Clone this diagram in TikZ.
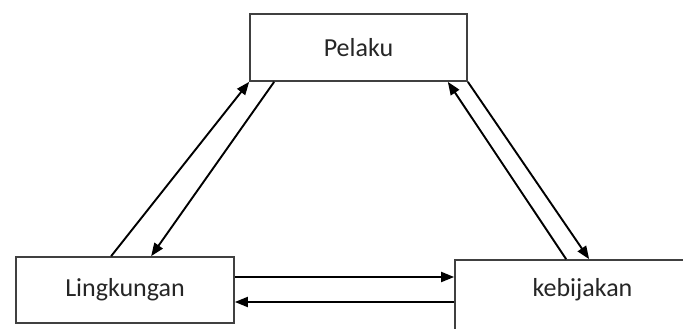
\documentclass[tikz,border=0pt]{standalone}
\usepackage{fontspec}
\setmainfont{Carlito}
\usetikzlibrary{arrows.meta,positioning}

\begin{document}
\begin{tikzpicture}[
    x = 1pt, y = -1pt, % picture measured in pixels, y downwards
    > = {Triangle[length=13pt,width=10pt]}, % arrow head style
    line width = 1.9pt, % line style
    font = \fontsize{26}{30}\selectfont
    ]

    \tikzset{box/.style={
    draw = black!75,
    line width = 1.7pt,
    fill = white,
    text = black!85,
    inner sep = 0pt
    }}
    \useasboundingbox (0,0) rectangle (683,329);
    \clip (0,0) rectangle (683,329);

    \node[box, minimum width = 217pt, minimum height = 67pt] (pelaku) at (358.5,47.5) {Pelaku};
    \node[box, minimum width = 218pt, minimum height = 66pt] (lingk) at (125,290) {Lingkungan};
    \node[box, minimum width = 255pt, minimum height = 72pt, text depth = 17pt] (kebij) at (582.5,296) {kebijakan};

    % lingkungan <-> pelaku
    \draw[->] ([xshift=96pt]lingk.north west) -- (pelaku.south west);
    \draw[->] ([xshift=25pt]pelaku.south west) -- ([xshift=136pt]lingk.north west);
    % kebijakan <-> pelaku
    \draw[->] ([xshift=112pt]kebij.north west) -- ([xshift=-20pt]pelaku.south east);
    \draw[->] (pelaku.south east) -- ([xshift=135pt]kebij.north west);
    % lingkungan <-> kebijakan
    \draw[->] ([yshift=13pt]lingk.east) -- ([yshift=13pt]lingk.east -| kebij.west);
    \draw[->] ([yshift=-12pt]lingk.east -| kebij.west) -- ([yshift=-12pt]lingk.east);
\end{tikzpicture}
\end{document}
